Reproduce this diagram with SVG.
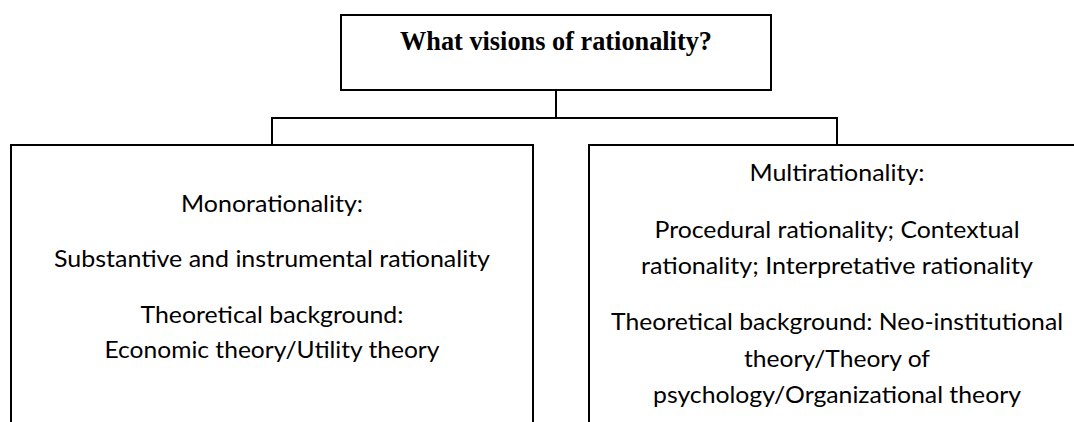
<svg xmlns="http://www.w3.org/2000/svg" width="1074" height="422" viewBox="0 0 1074 422">
  <style>
    .box { fill: #ffffff; stroke: #000000; stroke-width: 2; }
    .conn { fill: none; stroke: #000000; stroke-width: 2; }
    .title { font-family: "Liberation Serif", "Times New Roman", serif; font-weight: bold; font-size: 26.67px; fill: #000000; text-anchor: middle; }
    .body { font-family: Lato, "Noto Sans", sans-serif; font-size: 24px; fill: #000000; text-anchor: middle; }
  </style>
  <rect x="0" y="0" width="1074" height="422" fill="#ffffff"/>
  <g id="connectors">
    <line class="conn" x1="556" y1="90" x2="556" y2="118"/>
    <line class="conn" x1="271" y1="118" x2="838" y2="118"/>
    <line class="conn" x1="272" y1="118" x2="272" y2="145"/>
    <line class="conn" x1="837" y1="118" x2="837" y2="145"/>
  </g>
  <g id="node-root">
    <rect class="box" x="341" y="15" width="430" height="75"/>
    <text class="title" x="556" y="50" textLength="312" lengthAdjust="spacingAndGlyphs">What visions of rationality?</text>
  </g>
  <g id="node-mono">
    <rect class="box" x="11" y="145" width="522" height="300"/>
    <text class="body" x="272" y="212" textLength="182" lengthAdjust="spacingAndGlyphs">Monorationality:</text>
    <text class="body" x="272" y="267" textLength="436" lengthAdjust="spacingAndGlyphs">Substantive and instrumental rationality</text>
    <text class="body" x="272" y="323" textLength="263" lengthAdjust="spacingAndGlyphs">Theoretical background:</text>
    <text class="body" x="272" y="358" textLength="335" lengthAdjust="spacingAndGlyphs">Economic theory/Utility theory</text>
  </g>
  <g id="node-multi">
    <rect class="box" x="589" y="145" width="496" height="300"/>
    <text class="body" x="837" y="181" textLength="175" lengthAdjust="spacingAndGlyphs">Multirationality:</text>
    <text class="body" x="837" y="238" textLength="365" lengthAdjust="spacingAndGlyphs">Procedural rationality; Contextual</text>
    <text class="body" x="837" y="274" textLength="392" lengthAdjust="spacingAndGlyphs">rationality; Interpretative rationality</text>
    <text class="body" x="837" y="330" textLength="452" lengthAdjust="spacingAndGlyphs">Theoretical background: Neo-institutional</text>
    <text class="body" x="837" y="367" textLength="186" lengthAdjust="spacingAndGlyphs">theory/Theory of</text>
    <text class="body" x="837" y="403" textLength="368" lengthAdjust="spacingAndGlyphs">psychology/Organizational theory</text>
  </g>
</svg>
